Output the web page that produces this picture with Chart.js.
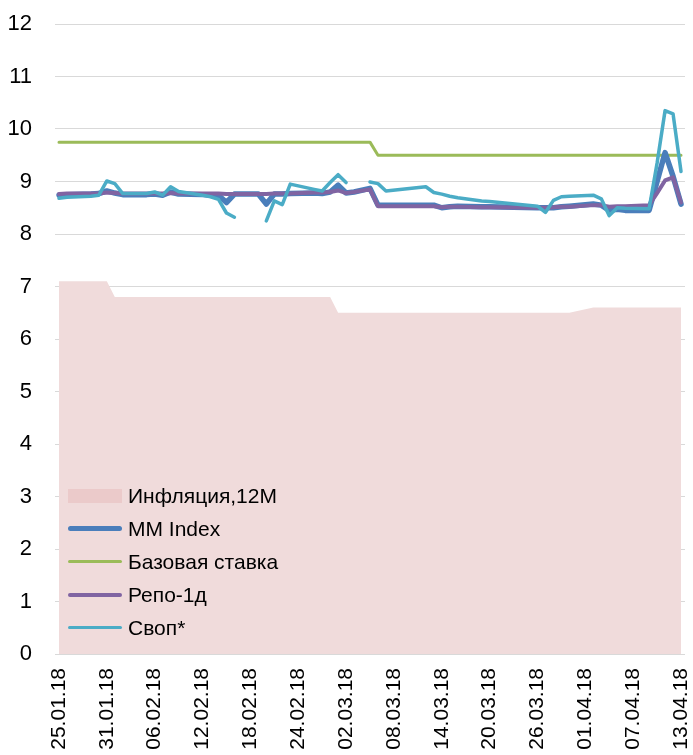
<!DOCTYPE html>
<html>
<head>
<meta charset="utf-8">
<script src="https://cdn.jsdelivr.net/npm/chart.js@4/dist/chart.umd.min.js"></script>
<style>
    body { margin: 0; background: #fff; }
    .wrap { position: relative; width: 693px; height: 755px; }
    .legend { position: absolute; left: 68px; top: 479px; font-family: "Liberation Sans", Arial, sans-serif; font-size: 21px; color: #000; }
    .legend .row { height: 33px; display: flex; align-items: center; }
    .legend .sw { width: 54px; margin-right: 6px; }
</style>
</head>
<body>
<div class="wrap">
    <canvas id="rateChart" width="693" height="755"></canvas>
    <div class="legend" id="legend"></div>
</div>
<script>
// tick labels shown on the x axis
const tickLabels = ["25.01.18", "31.01.18", "06.02.18", "12.02.18", "18.02.18", "24.02.18", "02.03.18",
    "08.03.18", "14.03.18", "20.03.18", "26.03.18", "01.04.18", "07.04.18", "13.04.18"];

// dates that have data (working days)
const rowDates = ["25.01.18", "26.01.18", "29.01.18", "30.01.18", "31.01.18", "01.02.18", "02.02.18",
    "05.02.18", "06.02.18", "07.02.18", "08.02.18", "09.02.18", "12.02.18", "13.02.18", "14.02.18",
    "15.02.18", "16.02.18", "19.02.18", "20.02.18", "21.02.18", "22.02.18", "23.02.18", "26.02.18",
    "27.02.18", "28.02.18", "01.03.18", "02.03.18", "03.03.18", "05.03.18", "06.03.18", "07.03.18",
    "12.03.18", "13.03.18", "14.03.18", "15.03.18", "16.03.18", "19.03.18", "20.03.18", "26.03.18",
    "27.03.18", "28.03.18", "29.03.18", "30.03.18", "02.04.18", "03.04.18", "04.04.18", "05.04.18",
    "06.04.18", "09.04.18", "10.04.18", "11.04.18", "12.04.18", "13.04.18"];

const inflation = [7.1, 7.1, 7.1, 7.1, 7.1, 6.8, 6.8,
    6.8, 6.8, 6.8, 6.8, 6.8, 6.8, 6.8, 6.8,
    6.8, 6.8, 6.8, 6.8, 6.8, 6.8, 6.8, 6.8,
    6.8, 6.8, 6.5, 6.5, 6.5, 6.5, 6.5, 6.5,
    6.5, 6.5, 6.5, 6.5, 6.5, 6.5, 6.5, 6.5,
    6.5, 6.5, 6.5, 6.5, 6.6, 6.6, 6.6, 6.6,
    6.6, 6.6, 6.6, 6.6, 6.6, 6.6];

const mmIndex = [8.74, 8.75, 8.76, 8.77, 8.82, 8.78, 8.75,
    8.75, 8.76, 8.74, 8.80, 8.76, 8.75, 8.74, 8.74,
    8.60, 8.76, 8.76, 8.57, 8.76, 8.76, 8.77, 8.78,
    8.77, 8.80, 8.93, 8.78, 8.80, 8.87, 8.55, 8.55,
    8.55, 8.55, 8.50, 8.52, 8.53, 8.52, 8.52, 8.50,
    8.50, 8.50, 8.52, 8.53, 8.57, 8.55, 8.45, 8.47,
    8.45, 8.45, 9.00, 9.55, 9.10, 8.57];

const baseRate = [9.75, 9.75, 9.75, 9.75, 9.75, 9.75, 9.75,
    9.75, 9.75, 9.75, 9.75, 9.75, 9.75, 9.75, 9.75,
    9.75, 9.75, 9.75, 9.75, 9.75, 9.75, 9.75, 9.75,
    9.75, 9.75, 9.75, 9.75, 9.75, 9.75, 9.5, 9.5,
    9.5, 9.5, 9.5, 9.5, 9.5, 9.5, 9.5, 9.5,
    9.5, 9.5, 9.5, 9.5, 9.5, 9.5, 9.5, 9.5,
    9.5, 9.5, 9.5, 9.5, 9.5, 9.5];

const repo = [8.76, 8.77, 8.77, 8.77, 8.79, 8.78, 8.77,
    8.77, 8.77, 8.77, 8.78, 8.77, 8.77, 8.77, 8.77,
    8.76, 8.76, 8.76, 8.76, 8.77, 8.77, 8.77, 8.79,
    8.79, 8.80, 8.83, 8.78, 8.80, 8.85, 8.53, 8.53,
    8.53, 8.53, 8.51, 8.52, 8.52, 8.51, 8.51, 8.50,
    8.50, 8.51, 8.52, 8.52, 8.55, 8.55, 8.52, 8.53,
    8.53, 8.55, 8.78, 9.02, 9.08, 8.60];

const swap = [8.68, 8.70, 8.72, 8.74, 9.01, 8.96, 8.77,
    8.77, 8.80, 8.74, 8.90, 8.81, 8.74, 8.71, 8.66,
    8.40, 8.32, null, 8.25, 8.63, 8.56, 8.95, 8.85,
    8.82, 8.98, 9.13, 8.98, null, 8.99, 8.96, 8.82,
    8.90, 8.79, 8.76, 8.72, 8.69, 8.63, 8.62, 8.53,
    8.41, 8.64, 8.71, 8.72, 8.74, 8.67, 8.35, 8.50,
    8.49, 8.48, 9.35, 10.35, 10.29, 9.19];

// every calendar day on the axis
const days = [];
for (let d = new Date(2018, 0, 25); d <= new Date(2018, 3, 13); d.setDate(d.getDate() + 1)) {
    const dd = String(d.getDate()).padStart(2, "0");
    const mm = String(d.getMonth() + 1).padStart(2, "0");
    days.push(`${dd}.${mm}.18`);
}

function points(values) {
    return rowDates.map((date, k) => ({ x: date, y: values[k] }));
}

const series = [
    { label: "Инфляция,12М", values: inflation, color: "#F0DBDB", width: 0, order: 4, area: true },
    { label: "MM Index", values: mmIndex, color: "#4A7EBB", width: 5.5, order: 2 },
    { label: "Базовая ставка", values: baseRate, color: "#9BBB59", width: 3, order: 3 },
    { label: "Репо-1д", values: repo, color: "#8064A2", width: 4, order: 1 },
    { label: "Своп*", values: swap, color: "#4BACC6", width: 3.5, order: 0 }
];

const ctx = document.getElementById("rateChart").getContext("2d");

new Chart(ctx, {
    type: "line",
    data: {
        labels: days,
        datasets: series.map(s => ({
            label: s.label,
            data: points(s.values),
            borderColor: s.color,
            backgroundColor: s.color,
            borderWidth: s.width,
            fill: s.area ? "origin" : false,
            order: s.order,
            tension: 0,
            pointRadius: 0,
            spanGaps: false,
            borderCapStyle: "round",
            borderJoinStyle: "round"
        }))
    },
    options: {
        responsive: false,
        animation: false,
        layout: { padding: { left: 7, right: 8, top: 24, bottom: 0 } },
        plugins: {
            legend: { display: false },
            tooltip: { enabled: false }
        },
        scales: {
            x: {
                offset: true,
                grid: { display: false, drawTicks: false },
                border: { display: false },
                afterFit: scale => {
                    scale.paddingLeft = 0;
                    scale.paddingRight = 0;
                    scale.height = 101;
                },
                ticks: {
                    autoSkip: false,
                    minRotation: 90,
                    maxRotation: 90,
                    padding: 14,
                    color: "#000",
                    font: { family: "Liberation Sans", size: 21 },
                    callback: function (value) {
                        const lab = this.getLabelForValue(value);
                        return tickLabels.includes(lab) ? lab : null;
                    }
                }
            },
            y: {
                min: 0,
                max: 12,
                grid: { color: "#D9D9D9", lineWidth: 1, drawTicks: false },
                border: { display: false },
                afterFit: scale => {
                    scale.paddingTop = 0;
                    scale.paddingBottom = 0;
                    scale.width = 48;
                },
                ticks: {
                    stepSize: 1,
                    padding: 23,
                    color: "#000",
                    font: { family: "Liberation Sans", size: 22 }
                }
            }
        }
    }
});

// legend inside the plot, lower left
const legend = document.getElementById("legend");
series.forEach(s => {
    const row = document.createElement("div");
    row.className = "row";
    const sw = document.createElement("div");
    sw.className = "sw";
    if (s.area) {
        sw.style.height = "14px";
        sw.style.background = "#EBCACA";
    } else {
        sw.style.height = s.width + "px";
        sw.style.borderRadius = "3px";
        sw.style.background = s.color;
    }
    const txt = document.createElement("span");
    txt.innerText = s.label;
    row.appendChild(sw);
    row.appendChild(txt);
    legend.appendChild(row);
});
</script>
</body>
</html>
